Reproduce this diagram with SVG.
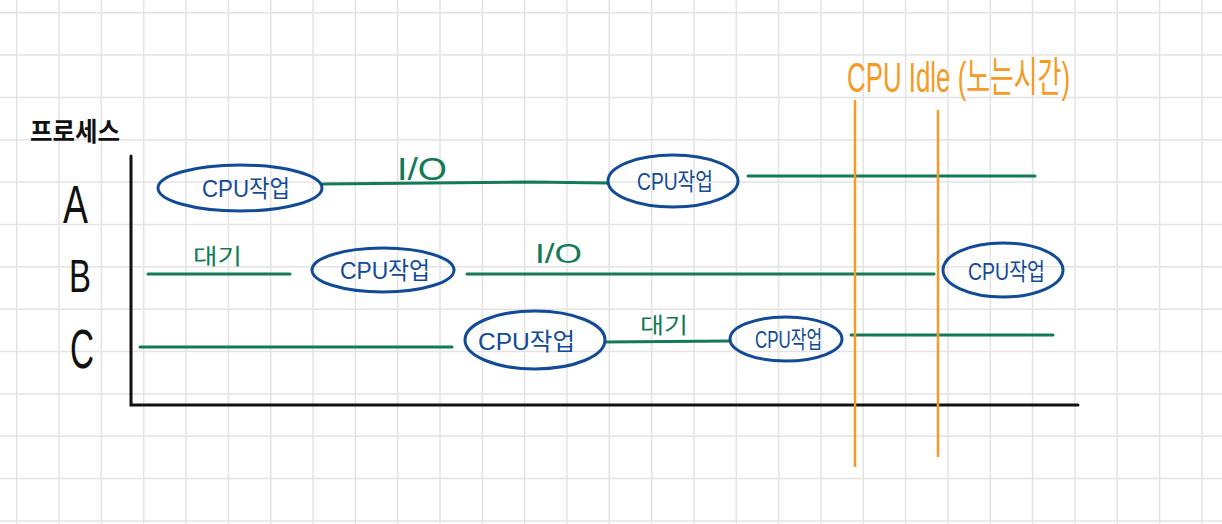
<svg xmlns="http://www.w3.org/2000/svg" width="1222" height="524" viewBox="0 0 1222 524">
  <style>
    .grid { stroke: #e3e3e3; stroke-width: 1.5; fill: none; }
    .axis { stroke: #111; stroke-width: 3; fill: none; stroke-linecap: round; }
    .node { fill: none; stroke: #114a97; stroke-width: 3; }
    .ntext { fill: #114a97; font-family: "Liberation Sans", "Noto Sans CJK KR", sans-serif; font-size: 24px; }
    .conn { stroke: #127a56; stroke-width: 3; fill: none; stroke-linecap: round; }
    .clabel { fill: #127a56; font-family: "Liberation Sans", "Noto Sans CJK KR", sans-serif; }
    .idle { stroke: #f59a23; stroke-width: 2.5; fill: none; }
    .idletext { fill: #f59a23; font-family: "Liberation Sans", "Noto Sans CJK KR", sans-serif; font-size: 42px; }
    .lbl { fill: #111; font-family: "Liberation Sans", "Noto Sans CJK KR", sans-serif; }
  </style>
  <rect x="0" y="0" width="1222" height="524" fill="#ffffff"/>
  <g id="grid">
    <path class="grid" d="M16.7 0V524 M59.0 0V524 M101.4 0V524 M143.7 0V524 M186.0 0V524 M228.4 0V524 M270.7 0V524 M313.0 0V524 M355.3 0V524 M397.7 0V524 M440.0 0V524 M482.3 0V524 M524.7 0V524 M567.0 0V524 M609.3 0V524 M651.7 0V524 M694.0 0V524 M736.3 0V524 M778.6 0V524 M821.0 0V524 M863.3 0V524 M905.6 0V524 M948.0 0V524 M990.3 0V524 M1032.6 0V524 M1075.0 0V524 M1117.3 0V524 M1159.6 0V524 M1201.9 0V524"/>
    <path class="grid" d="M0 12.7H1222 M0 55.1H1222 M0 97.4H1222 M0 139.8H1222 M0 182.1H1222 M0 224.5H1222 M0 266.8H1222 M0 309.2H1222 M0 351.5H1222 M0 393.9H1222 M0 436.2H1222 M0 478.6H1222 M0 520.9H1222"/>
  </g>
  <g id="axes">
    <path class="axis" d="M131 156 V405 H1078"/>
    <text class="lbl" x="30" y="141" font-size="26" font-weight="bold" textLength="90" lengthAdjust="spacingAndGlyphs">프로세스</text>
    <text class="lbl" x="63" y="223" font-size="54" textLength="25" lengthAdjust="spacingAndGlyphs">A</text>
    <text class="lbl" x="69" y="292" font-size="46" textLength="22" lengthAdjust="spacingAndGlyphs">B</text>
    <text class="lbl" x="70" y="368" font-size="56" textLength="24" lengthAdjust="spacingAndGlyphs">C</text>
  </g>
  <g id="connectors">
    <path class="conn" d="M323 184 L530 182 L607 183"/>
    <path class="conn" d="M748 176 L1035 176"/>
    <path class="conn" d="M148 274 L290 274"/>
    <path class="conn" d="M467 274 L934 274"/>
    <path class="conn" d="M140 347 L452 347"/>
    <path class="conn" d="M605 342 L730 341"/>
    <path class="conn" d="M851 335 L1053 335"/>
    <text class="clabel" x="397" y="180" font-size="32" textLength="50" lengthAdjust="spacingAndGlyphs">I/O</text>
    <text class="clabel" x="535" y="263" font-size="28" textLength="47" lengthAdjust="spacingAndGlyphs">I/O</text>
    <text class="clabel" x="193" y="264" font-size="22" textLength="49" lengthAdjust="spacingAndGlyphs">대기</text>
    <text class="clabel" x="640" y="333" font-size="22" textLength="48" lengthAdjust="spacingAndGlyphs">대기</text>
  </g>
  <g id="idle">
    <path class="idle" d="M855 100 V467"/>
    <path class="idle" d="M938 110 V457"/>
    <text class="idletext" x="847" y="92" textLength="223" lengthAdjust="spacingAndGlyphs">CPU Idle (노는시간)</text>
  </g>
  <g id="A1">
    <ellipse class="node" cx="240" cy="188" rx="82" ry="23"/>
    <text class="ntext" x="202" y="197" textLength="88" lengthAdjust="spacingAndGlyphs">CPU작업</text>
  </g>
  <g id="A2">
    <ellipse class="node" cx="673" cy="181" rx="65" ry="26"/>
    <text class="ntext" x="637" y="190" textLength="76" lengthAdjust="spacingAndGlyphs">CPU작업</text>
  </g>
  <g id="B1">
    <ellipse class="node" cx="383" cy="270" rx="71" ry="22"/>
    <text class="ntext" x="340" y="279" textLength="90" lengthAdjust="spacingAndGlyphs">CPU작업</text>
  </g>
  <g id="B2">
    <ellipse class="node" cx="1003" cy="270" rx="60" ry="27"/>
    <text class="ntext" x="968" y="280" textLength="77" lengthAdjust="spacingAndGlyphs">CPU작업</text>
  </g>
  <g id="C1">
    <ellipse class="node" cx="535" cy="340" rx="70" ry="29"/>
    <text class="ntext" x="478" y="350" textLength="97" lengthAdjust="spacingAndGlyphs">CPU작업</text>
  </g>
  <g id="C2">
    <ellipse class="node" cx="786" cy="339" rx="56" ry="22"/>
    <text class="ntext" x="755" y="348" textLength="67" lengthAdjust="spacingAndGlyphs">CPU작업</text>
  </g>
</svg>
